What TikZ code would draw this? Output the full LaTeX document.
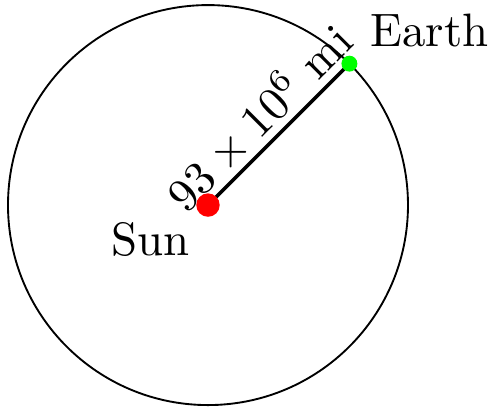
\documentclass[tikz,border=0pt]{standalone}
\usepackage{tikz}
\usetikzlibrary{calc}

\begin{document}
\begin{tikzpicture}[
    orbit/.style={draw=black, line width=0.4pt},
    dist/.style={draw=black, line width=0.75pt},
    lbl/.style={font=\normalsize, inner sep=0pt}
  ]
  \useasboundingbox (-1.56,-1.56) rectangle (2.13,1.538);
  \def\R{1.5}

  % orbit
  \draw[orbit] (0,0) circle (\R);

  % sun and earth
  \coordinate (sun) at (0,0);
  \coordinate (earth) at (45:\R);
  \draw[dist] (sun) -- node[sloped, above, inner sep=0.7pt, pos=0.49] (distlbl) {$93\times10^6$ mi} (earth);
  \fill[red] (sun) circle (2.5pt);
  \fill[green] (earth) circle (1.7pt);

  % labels
  \node[lbl] (sunlbl) at ($(sun)+(-0.43,-0.26)$) {Sun};
  \node[lbl] (earthlbl) at ($(earth)+(0.60,0.25)$) {Earth};
\end{tikzpicture}
\end{document}
